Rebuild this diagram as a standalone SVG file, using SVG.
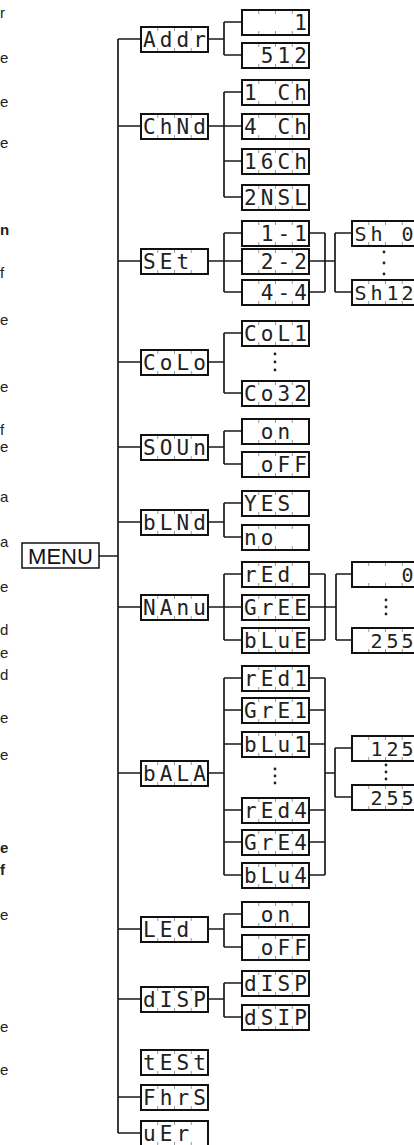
<svg xmlns="http://www.w3.org/2000/svg" xmlns:xlink="http://www.w3.org/1999/xlink" width="414" height="1145" viewBox="0 0 414 1145">
<style>
.ln{stroke:#1a1a1a;stroke-width:1.7;fill:none}
.bx{fill:#fff;stroke:#111;stroke-width:2}
.tk{stroke:#999;stroke-width:1}
.lcd{font-family:"DejaVu Sans Mono",monospace;font-size:21px;fill:#222;text-anchor:middle}
.lcs{font-family:"DejaVu Sans Mono",monospace;font-size:20px;fill:#222;text-anchor:middle}
.frag{font-family:"Liberation Sans",Arial,sans-serif;font-size:15px;fill:#222;text-anchor:start}
.b{font-weight:bold}
.dot{fill:#222}
</style>
<defs>
<g id="box"><rect class="bx" x="0" y="0" width="67" height="25"/><path class="tk" d="M16.75 1v3M33.5 1v3M50.25 1v3M16.75 24v-3M33.5 24v-3M50.25 24v-3"/></g>
</defs>
<rect width="414" height="1145" fill="#fff"/>
<g id="fragments">
<text class="frag" x="0" y="18">r</text>
<text class="frag" x="0" y="63">e</text>
<text class="frag" x="0" y="107">e</text>
<text class="frag" x="0" y="148">e</text>
<text class="frag b" x="0" y="235">n</text>
<text class="frag" x="0" y="278">f</text>
<text class="frag" x="0" y="325">e</text>
<text class="frag" x="0" y="392">e</text>
<text class="frag" x="0" y="435">f</text>
<text class="frag" x="0" y="452">e</text>
<text class="frag" x="0" y="502">a</text>
<text class="frag" x="0" y="547">a</text>
<text class="frag" x="0" y="592">e</text>
<text class="frag" x="0" y="635">d</text>
<text class="frag" x="0" y="658">e</text>
<text class="frag" x="0" y="680">d</text>
<text class="frag" x="0" y="723">e</text>
<text class="frag" x="0" y="760">e</text>
<text class="frag b" x="0" y="853">e</text>
<text class="frag b" x="0" y="875">f</text>
<text class="frag" x="0" y="920">e</text>
<text class="frag" x="0" y="1032">e</text>
<text class="frag" x="0" y="1075">e</text>
</g>
<g id="connectors">
<path class="ln" d="M99 556H118M118 39V1133M118 39H141M118 126H141M118 261H141M118 362H141M118 447H141M118 522H141M118 607H141M118 773H141M118 929H141M118 999H141M118 1097H141M118 1133H141"/>
<path class="ln" d="M208 39H224M224 22V55M224 22H242M224 55H242"/>
<path class="ln" d="M208 126H242M224 92V197M224 92H242M224 161H242M224 197H242"/>
<path class="ln" d="M208 261H242M224 233V292M224 233H242M224 292H242M308 233H325M308 292H325M308 261H335M325 233V292M335 233V292M335 233H352M335 292H352"/>
<path class="ln" d="M208 362H224M224 333V393M224 333H242M224 393H242"/>
<path class="ln" d="M208 447H224M224 431V464M224 431H242M224 464H242"/>
<path class="ln" d="M208 522H224M224 503V537M224 503H242M224 537H242"/>
<path class="ln" d="M208 607H242M224 574V640M224 574H242M224 640H242M308 574H325M308 640H325M308 607H336M325 574V640M336 574V640M336 574H352M336 640H352"/>
<path class="ln" d="M208 773H224M224 678V875M224 678H242M224 710H242M224 744H242M224 810H242M224 842H242M224 875H242M308 678H325M308 710H325M308 744H325M308 810H325M308 842H325M308 875H325M325 678V875M325 773H335M335 748V797M335 748H352M335 797H352"/>
<path class="ln" d="M208 929H224M224 914V947M224 914H242M224 947H242"/>
<path class="ln" d="M208 999H224M224 983V1017M224 983H242M224 1017H242"/>
</g>
<g id="menu"><rect x="22" y="543" width="77" height="25" fill="#fff" stroke="#111" stroke-width="1.5"/><text x="60.5" y="564" font-family="Liberation Sans,Arial,sans-serif" font-size="22" text-anchor="middle" fill="#111">MENU</text></g>
<g id="n-addr"><use xlink:href="#box" x="141" y="27"/><text class="lcd" x="149.4 166.1 182.9 199.6" y="47">Addr</text></g>
<g id="n-chnd"><use xlink:href="#box" x="141" y="114"/><text class="lcd" x="149.4 166.1 182.9 199.6" y="134">ChNd</text></g>
<g id="n-set"><use xlink:href="#box" x="141" y="249"/><text class="lcd" x="149.4 166.1 182.9" y="269">SEt</text></g>
<g id="n-colo"><use xlink:href="#box" x="141" y="350"/><text class="lcd" x="149.4 166.1 182.9 199.6" y="370">CoLo</text></g>
<g id="n-soun"><use xlink:href="#box" x="141" y="435"/><text class="lcd" x="149.4 166.1 182.9 199.6" y="455">SOUn</text></g>
<g id="n-blnd"><use xlink:href="#box" x="141" y="510"/><text class="lcd" x="149.4 166.1 182.9 199.6" y="530">bLNd</text></g>
<g id="n-manu"><use xlink:href="#box" x="141" y="595"/><text class="lcd" x="149.4 166.1 182.9 199.6" y="615">NAnu</text></g>
<g id="n-bala"><use xlink:href="#box" x="141" y="761"/><text class="lcd" x="149.4 166.1 182.9 199.6" y="781">bALA</text></g>
<g id="n-led"><use xlink:href="#box" x="141" y="917"/><text class="lcd" x="149.4 166.1 182.9" y="937">LEd</text></g>
<g id="n-disp"><use xlink:href="#box" x="141" y="987"/><text class="lcd" x="149.4 166.1 182.9 199.6" y="1007">dISP</text></g>
<g id="n-test"><use xlink:href="#box" x="141" y="1050"/><text class="lcd" x="149.4 166.1 182.9 199.6" y="1070">tESt</text></g>
<g id="n-fhrs"><use xlink:href="#box" x="141" y="1085"/><text class="lcd" x="149.4 166.1 182.9 199.6" y="1105">FhrS</text></g>
<g id="n-ver"><use xlink:href="#box" x="141" y="1121"/><text class="lcd" x="149.4 166.1 182.9" y="1141">uEr</text></g>
<g id="s-addr1"><use xlink:href="#box" x="242" y="10"/><text class="lcd" x="300.6" y="30">1</text></g>
<g id="s-addr512"><use xlink:href="#box" x="242" y="43"/><text class="lcd" x="267.1 283.9 300.6" y="63">512</text></g>
<g id="s-1ch"><use xlink:href="#box" x="242" y="80"/><text class="lcd" x="250.4 267.1 283.9 300.6" y="100">1 Ch</text></g>
<g id="s-4ch"><use xlink:href="#box" x="242" y="114"/><text class="lcd" x="250.4 267.1 283.9 300.6" y="134">4 Ch</text></g>
<g id="s-16ch"><use xlink:href="#box" x="242" y="149"/><text class="lcd" x="250.4 267.1 283.9 300.6" y="169">16Ch</text></g>
<g id="s-2nsl"><use xlink:href="#box" x="242" y="185"/><text class="lcd" x="250.4 267.1 283.9 300.6" y="205">2NSL</text></g>
<g id="s-11"><use xlink:href="#box" x="242" y="221"/><text class="lcd" x="267.1 283.9 300.6" y="241">1-1</text></g>
<g id="s-22"><use xlink:href="#box" x="242" y="249"/><text class="lcd" x="267.1 283.9 300.6" y="269">2-2</text></g>
<g id="s-44"><use xlink:href="#box" x="242" y="280"/><text class="lcd" x="267.1 283.9 300.6" y="300">4-4</text></g>
<g id="t-sh0"><use xlink:href="#box" x="352" y="221"/><text class="lcs" x="360.4 376.4 392.4 407.6" y="241">Sh 0</text></g>
<g id="t-sh12"><use xlink:href="#box" x="352" y="280"/><text class="lcs" x="360.4 376.4 392.4 407.6" y="300">Sh12</text></g>
<g id="s-col1"><use xlink:href="#box" x="242" y="321"/><text class="lcd" x="250.4 267.1 283.9 300.6" y="341">CoL1</text></g>
<g id="s-co32"><use xlink:href="#box" x="242" y="381"/><text class="lcd" x="250.4 267.1 283.9 300.6" y="401">Co32</text></g>
<g id="s-on1"><use xlink:href="#box" x="242" y="419"/><text class="lcd" x="267.1 283.9" y="439">on</text></g>
<g id="s-off1"><use xlink:href="#box" x="242" y="452"/><text class="lcd" x="267.1 283.9 300.6" y="472">oFF</text></g>
<g id="s-yes"><use xlink:href="#box" x="242" y="491"/><text class="lcd" x="250.4 267.1 283.9" y="511">YES</text></g>
<g id="s-no"><use xlink:href="#box" x="242" y="525"/><text class="lcd" x="250.4 267.1" y="545">no</text></g>
<g id="s-red"><use xlink:href="#box" x="242" y="562"/><text class="lcd" x="250.4 267.1 283.9" y="582">rEd</text></g>
<g id="s-gree"><use xlink:href="#box" x="242" y="595"/><text class="lcd" x="250.4 267.1 283.9 300.6" y="615">GrEE</text></g>
<g id="s-blue"><use xlink:href="#box" x="242" y="628"/><text class="lcd" x="250.4 267.1 283.9 300.6" y="648">bLuE</text></g>
<g id="t-0"><use xlink:href="#box" x="352" y="562"/><text class="lcs" x="407.6" y="582">0</text></g>
<g id="t-255a"><use xlink:href="#box" x="352" y="628"/><text class="lcs" x="376.4 392.4 407.6" y="648">255</text></g>
<g id="s-red1"><use xlink:href="#box" x="242" y="666"/><text class="lcd" x="250.4 267.1 283.9 300.6" y="686">rEd1</text></g>
<g id="s-gre1"><use xlink:href="#box" x="242" y="698"/><text class="lcd" x="250.4 267.1 283.9 300.6" y="718">GrE1</text></g>
<g id="s-blu1"><use xlink:href="#box" x="242" y="732"/><text class="lcd" x="250.4 267.1 283.9 300.6" y="752">bLu1</text></g>
<g id="s-red4"><use xlink:href="#box" x="242" y="798"/><text class="lcd" x="250.4 267.1 283.9 300.6" y="818">rEd4</text></g>
<g id="s-gre4"><use xlink:href="#box" x="242" y="830"/><text class="lcd" x="250.4 267.1 283.9 300.6" y="850">GrE4</text></g>
<g id="s-blu4"><use xlink:href="#box" x="242" y="863"/><text class="lcd" x="250.4 267.1 283.9 300.6" y="883">bLu4</text></g>
<g id="t-125"><use xlink:href="#box" x="352" y="736"/><text class="lcs" x="376.4 392.4 407.6" y="756">125</text></g>
<g id="t-255b"><use xlink:href="#box" x="352" y="785"/><text class="lcs" x="376.4 392.4 407.6" y="805">255</text></g>
<g id="s-on2"><use xlink:href="#box" x="242" y="902"/><text class="lcd" x="267.1 283.9" y="922">on</text></g>
<g id="s-off2"><use xlink:href="#box" x="242" y="935"/><text class="lcd" x="267.1 283.9 300.6" y="955">oFF</text></g>
<g id="s-disp"><use xlink:href="#box" x="242" y="971"/><text class="lcd" x="250.4 267.1 283.9 300.6" y="991">dISP</text></g>
<g id="s-dsip"><use xlink:href="#box" x="242" y="1005"/><text class="lcd" x="250.4 267.1 283.9 300.6" y="1025">dSIP</text></g>
<g id="dots">
<circle class="dot" cx="384" cy="252" r="1.4"/><circle class="dot" cx="384" cy="263" r="1.4"/><circle class="dot" cx="384" cy="274" r="1.4"/>
<circle class="dot" cx="275" cy="354" r="1.4"/><circle class="dot" cx="275" cy="362" r="1.4"/><circle class="dot" cx="275" cy="370" r="1.4"/>
<circle class="dot" cx="386" cy="600" r="1.4"/><circle class="dot" cx="386" cy="607" r="1.4"/><circle class="dot" cx="386" cy="614" r="1.4"/>
<circle class="dot" cx="275" cy="769" r="1.4"/><circle class="dot" cx="275" cy="776" r="1.4"/><circle class="dot" cx="275" cy="783" r="1.4"/>
<circle class="dot" cx="386" cy="765" r="1.4"/><circle class="dot" cx="386" cy="772" r="1.4"/><circle class="dot" cx="386" cy="779" r="1.4"/>
</g>
</svg>
